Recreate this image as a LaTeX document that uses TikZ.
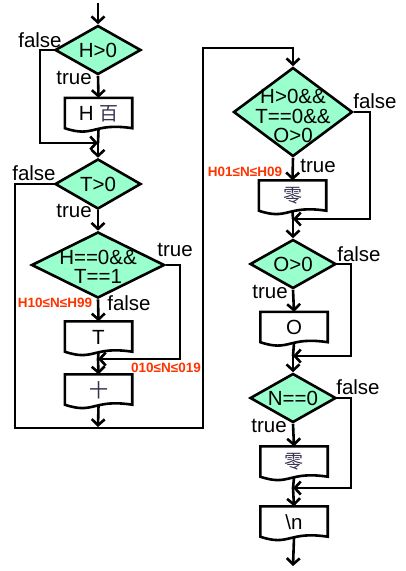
\documentclass[tikz,border=0pt]{standalone}
\usepackage{fontspec}
\setmainfont{Liberation Sans}
\newfontfamily\cjk{Noto Sans CJK SC}
\usetikzlibrary{arrows.meta,shapes.geometric}
\definecolor{dfill}{HTML}{99FFCC}
\definecolor{lblred}{HTML}{FF3300}
\definecolor{cjkcol}{HTML}{3A3050}
\newcommand\docbox[4]{%
  \node[boxt] (#1) at (#2,#3) {#4};
  \draw[line] (#1.north west) -- (#1.north east) -- ([yshift=1pt]#1.south east)
    .. controls ([xshift=-6pt,yshift=7pt]#1.south) and ([xshift=-4pt,yshift=-9pt]#1.south) .. ([yshift=1pt]#1.south west) -- cycle;}
\begin{document}
\begin{tikzpicture}[x=1pt,y=-1pt,
  line/.style={line width=2.6pt},
  arr/.style={line, -{Straight Barb[length=6pt,width=13pt]}},
  dec/.style={diamond, draw, fill=dfill, line width=2.6pt, inner sep=0pt},
  txt/.style={font=\fontsize{20.5}{19.5}\selectfont, inner sep=0pt, align=center},
  lbl/.style={font=\fontsize{20.5}{20}\selectfont, inner sep=0pt},
  redlbl/.style={font=\fontsize{13.5}{14}\selectfont\bfseries, text=lblred, inner sep=0pt},
  cj/.style={font=\cjk\fontsize{19}{20}\selectfont, text=cjkcol},
  boxt/.style={minimum width=67pt, minimum height=31pt, inner sep=0pt, font=\fontsize{20.5}{20}\selectfont}]
\useasboundingbox (0,0) rectangle (405,571);

% left column
\node[dec, minimum width=86pt, minimum height=49pt] (d1) at (98,50) {};
\node[txt] (t1) at (d1) {H>0};
\docbox{b1}{98.5}{113.5}{H {\cjk\color{cjkcol}\fontsize{19}{20}\selectfont 百}}
\node[dec, minimum width=86pt, minimum height=50pt] (d2) at (98,184) {};
\node[txt] (t2) at (d2) {T>0};
\node[dec, minimum width=133pt, minimum height=66pt] (d3) at (98,265) {};
\node[txt] (t3) at ([yshift=-2pt]d3.center) {H==0\&\&\\T==1};
\docbox{b2}{98.5}{337}{T}
\docbox{b3}{98.5}{390}{{\cjk\color{cjkcol}\fontsize{19}{20}\selectfont 十}}

% right column
\node[dec, minimum width=119pt, minimum height=89pt] (d4) at (293,112) {};
\node[txt] (t4) at ([yshift=-4pt]d4.center) {H>0\&\&\\T==0\&\&\\O>0};
\docbox{b4}{292.5}{196}{{\cjk\color{cjkcol}\fontsize{19}{20}\selectfont 零}}
\node[dec, minimum width=86pt, minimum height=49pt] (d5) at (293,264) {};
\node[txt] (t5) at (d5) {O>0};
\docbox{b5}{294}{327.5}{O}
\node[dec, minimum width=86pt, minimum height=49pt] (d6) at (293,398) {};
\node[txt] (t6) at (d6) {N==0};
\docbox{b6}{294}{462}{{\cjk\color{cjkcol}\fontsize{19}{20}\selectfont 零}}
\docbox{b7}{294}{522}{\textbackslash n}

% coordinates
\coordinate (s0) at (98,3);
\coordinate (m1) at (98,143);
\coordinate (m2) at (98,359);
\coordinate (m3) at (98,427);
\coordinate (m4) at (293,219);
\coordinate (m5) at (293,356);
\coordinate (m6) at (293,488);
\coordinate (e0) at (293,566);

% connectors left
\draw[arr] (s0) -- (d1.north);
\draw[arr] (d1.south) -- (b1.north);
\draw[arr] (d1.west) -- (40,50) -- (40,143) -- (m1);
\draw[line] (b1.south) -- (m1);
\draw[arr] (m1) -- (d2.north);
\draw[arr] (d2.west) -- (15,184) -- (15,428) -- (203,428) -- (203,48) -- (293,48) -- (d4.north);
\draw[arr] (d2.south) -- (d3.north);
\draw[arr] (d3.east) -- (180,265) -- (180,359) -- (m2);
\draw[arr] (d3.south) -- (b2.north);
\draw[line] (b2.south) -- (m2);
\draw[arr] (m2) -- (b3.north);
\draw[arr] (b3.south) -- (m3);

% connectors right
\draw[arr] (d4.east) -- (370,112) -- (370,219) -- (m4);
\draw[arr] (d4.south) -- (b4.north);
\draw[line] (b4.south) -- (m4);
\draw[arr] (m4) -- (d5.north);
\draw[arr] (d5.east) -- (351,264) -- (351,356) -- (m5);
\draw[arr] (d5.south) -- (b5.north);
\draw[line] (b5.south) -- (m5);
\draw[arr] (m5) -- (d6.north);
\draw[arr] (d6.east) -- (351,398) -- (351,488) -- (m6);
\draw[arr] (d6.south) -- (b6.north);
\draw[line] (b6.south) -- (m6);
\draw[arr] (m6) -- (b7.north);
\draw[arr] (b7.south) -- (e0);

% labels
\node[lbl] (l1) at (40,40) {false};
\node[lbl] (l2) at (74,78) {true};
\node[lbl] (l3) at (34,173) {false};
\node[lbl] (l4) at (74,211) {true};
\node[lbl] (l5) at (175,250) {true};
\node[redlbl] (l6) at (55,303) {H10≤N≤H99};
\node[lbl] (l7) at (129,303) {false};
\node[redlbl] (l8) at (166,368) {010≤N≤019};
\node[lbl] (l9) at (375,101) {false};
\node[redlbl] (l10) at (245,172) {H01≤N≤H09};
\node[lbl] (l11) at (318,166) {true};
\node[lbl] (l12) at (359,254) {false};
\node[lbl] (l13) at (270,292) {true};
\node[lbl] (l14) at (358,387) {false};
\node[lbl] (l15) at (269,426) {true};
\end{tikzpicture}
\end{document}
